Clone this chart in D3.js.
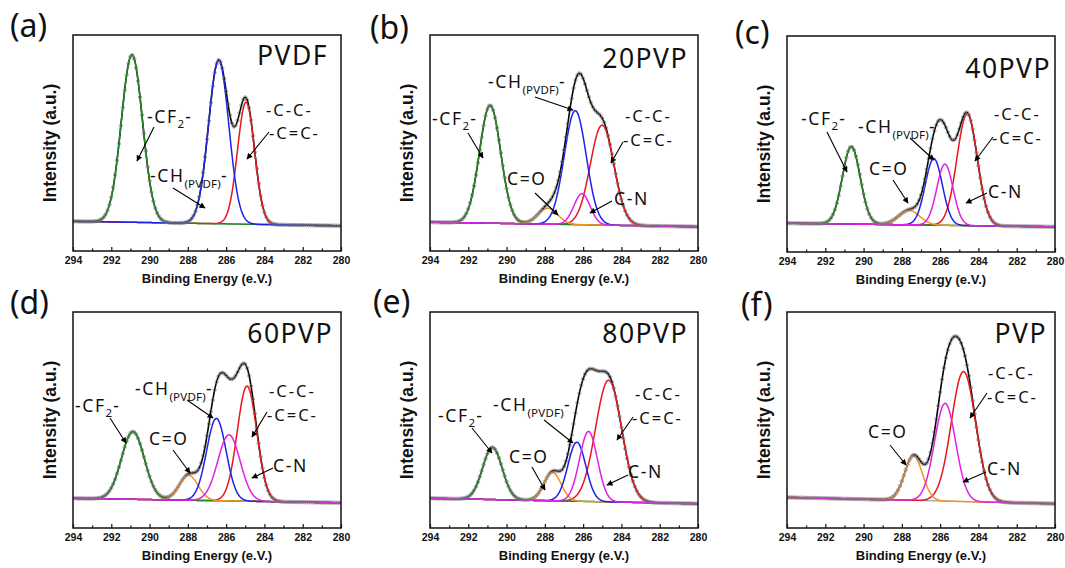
<!DOCTYPE html>
<html><head><meta charset="utf-8">
<script src="https://cdn.jsdelivr.net/npm/d3@7"></script>
<style>body{margin:0;background:#fff}svg{display:block}</style>
</head><body><svg id="c" width="1065" height="568"></svg>
<script>
// ---------------- data ----------------
const panelTags   = ["(a)","(b)","(c)","(d)","(e)","(f)"];
const sampleNames = ["PVDF","20PVP","40PVP","60PVP","80PVP","PVP"];
const xTicks      = [294,292,290,288,286,284,282,280];
const xMinorTicks = [293,291,289,287,285,283,281];
// fitted components: centre (eV), peak height (a.u.), FWHM (eV); null = component absent
const cf2Center = [290.92, 290.86, 290.64, 290.87, 290.74, null];
const cf2Height = [0.93, 0.655, 0.43, 0.376, 0.29, null];
const cf2Fwhm   = [1.3, 1.3, 1.1, 1.4, 1.2, null];
const coCenter  = [null, 287.84, 287.62, 287.96, 287.60, 287.39];
const coHeight  = [null, 0.089, 0.08, 0.139, 0.157, 0.246];
const coFwhm    = [null, 1.2, 1.3, 1.15, 1.05, 1.1];
const chCenter  = [286.39, 286.41, 286.33, 286.51, 286.33, null];
const chHeight  = [0.906, 0.633, 0.37, 0.457, 0.328, null];
const chFwhm    = [1.25, 1.35, 1.05, 1.2, 1.1, null];
const ccCenter  = [284.96, 285.01, 284.59, 284.91, 284.67, 284.78];
const ccHeight  = [0.678, 0.555, 0.62, 0.639, 0.676, 0.722];
const ccFwhm    = [1.05, 1.45, 1.25, 1.2, 1.6, 1.5];
const cnCenter  = [null, 286.06, 285.75, 285.85, 285.72, 285.74];
const cnHeight  = [null, 0.172, 0.34, 0.367, 0.389, 0.543];
const cnFwhm    = [null, 1.0, 1.0, 1.37, 1.1, 1.3];
const bgAt294   = [0.015, 0.01, 0.01, 0.015, 0.015, 0.02];
const bgAt280   = [-0.01, -0.015, -0.01, -0.01, -0.015, -0.015];

// ---------------- layout ----------------
const W = 268, H = 216;
const panelLeft = [73, 430, 787, 73, 430, 787];
const panelTop  = [35, 35, 36, 312, 312, 312];
const tagDx = [-63, -60, -52, -63, -57, -46];
const tagDy = [2, 4, 8, 2, 0.5, 4];
const nameX = [255, 258, 264, 260, 258, 260];
const nameY = [30, 33, 42, 31, 31, 31];
// annotations: [panel, kind, textX, textY, arrowX1, arrowY1, arrowX2, arrowY2, (line2X, line2Y)]
const annotations = [
  [0,"cf2",74,88,81,92,64,126],
  [0,"ch",77,147,100,153,132,173],
  [0,"cc",193,81,196,97,174,124,196,104],
  [1,"cf2",2,90,38,98,53,123],
  [1,"ch",58,53,105,62,143,75],
  [1,"co",77,150,105,158,128,180],
  [1,"cn",184,170,182,166,160,178],
  [1,"cc",195,87,193,107,181,128,193,111],
  [2,"cf2",14,89,40,96,60,136],
  [2,"ch",71,97,123,102,147,124],
  [2,"co",82,139,106,144,121,167],
  [2,"cn",201,162,200,157,179,167],
  [2,"cc",207,84,206,101,188,125,205,108],
  [3,"cf2",2,100,37,106,53,131],
  [3,"ch",62,83,114,88,140,106],
  [3,"co",76,133,100,138,117,161],
  [3,"cn",200,160,200,156,179,166],
  [3,"cc",196,85,194,100,179,125,194,109],
  [4,"cf2",8,110,42,116,62,141],
  [4,"ch",63,99,114,108,143,131],
  [4,"co",79,151,102,155,115,178],
  [4,"cn",198,166,198,163,177,173],
  [4,"cc",205,88,203,105,187,128,202,112],
  [5,"co",81,126,103,133,119,153],
  [5,"cn",200,163,199,160,176,170],
  [5,"cc",201,67,200,81,183,106,200,91]
];

const colors = {cf2:"#1f8a1f", co:"#f39322", ch:"#1e22e6", cc:"#e8161a", cn:"#e41fe4"};
const drawOrder = ["cc","cf2","co","ch","cn"];

const svg = d3.select("#c");
svg.append("rect").attr("width",1065).attr("height",568).attr("fill","#fff");
const defs = svg.append("defs");
defs.append("marker").attr("id","arr").attr("viewBox","0 0 10 10")
  .attr("refX",9).attr("refY",5).attr("markerWidth",7).attr("markerHeight",6)
  .attr("markerUnits","userSpaceOnUse").attr("orient","auto")
  .append("path").attr("d","M0,0L10,5L0,10z").attr("fill","#000");

const x = d3.scaleLinear().domain([294,280]).range([0,W]);
const y = d3.scaleLinear().domain([-0.15,1.05]).range([H,0]);
const grid = d3.range(0,1401).map(i => 294 - i*0.01);
const markGrid = d3.range(0,141).map(i => 294 - i*0.1);

function gauss(e,c,h,f){ return h*Math.exp(-4*Math.LN2*(e-c)*(e-c)/(f*f)); }

for (let p=0;p<6;p++){
  const comps = {
    cf2:[cf2Center[p],cf2Height[p],cf2Fwhm[p]],
    co:[coCenter[p],coHeight[p],coFwhm[p]],
    ch:[chCenter[p],chHeight[p],chFwhm[p]],
    cc:[ccCenter[p],ccHeight[p],ccFwhm[p]],
    cn:[cnCenter[p],cnHeight[p],cnFwhm[p]]
  };
  const bg = d3.scaleLinear().domain([294,280]).range([bgAt294[p],bgAt280[p]]);
  const active = drawOrder.filter(k => comps[k][0] !== null);
  const env = e => bg(e) + d3.sum(active, k => gauss(e,...comps[k]));

  const g = svg.append("g").attr("transform",`translate(${panelLeft[p]},${panelTop[p]})`);
  const clipId = "clip"+p;
  defs.append("clipPath").attr("id",clipId).append("rect").attr("width",W).attr("height",H);
  const plot = g.append("g").attr("clip-path",`url(#${clipId})`);
  const line = d3.line().x(d=>x(d[0])).y(d=>y(d[1]));

  plot.append("path").attr("d",line(grid.map(e=>[e,bg(e)])))
    .attr("fill","none").attr("stroke","#9a9a9a").attr("stroke-width",1.2);
  plot.append("path").attr("d",line(grid.map(e=>[e,env(e)])))
    .attr("fill","none").attr("stroke","#000").attr("stroke-width",1.6);
  active.forEach(k=>{
    plot.append("path").attr("d",line(grid.map(e=>[e,bg(e)+gauss(e,...comps[k])])))
      .attr("fill","none").attr("stroke",colors[k]).attr("stroke-width",1.5);
  });
  plot.append("g").selectAll("circle").data(markGrid).join("circle")
    .attr("cx",e=>x(e)).attr("cy",e=>y(env(e))).attr("r",1.7)
    .attr("fill","none").attr("stroke","#7a7a7a").attr("stroke-width",0.6);

  g.append("rect").attr("width",W).attr("height",H).attr("fill","none")
    .attr("stroke","#111").attr("stroke-width",1.5);

  const ax = g.append("g").attr("transform",`translate(0,${H})`)
    .call(d3.axisBottom(x).tickValues(xTicks).tickSize(-4).tickPadding(6).tickFormat(d3.format("d")));
  ax.select(".domain").remove();
  ax.selectAll("line").attr("stroke","#111").attr("stroke-width",1.2);
  ax.selectAll("text").attr("font-family","'Liberation Sans',Arial,sans-serif")
    .attr("font-weight","bold").attr("font-size",10.5).attr("fill","#111");
  const axm = g.append("g").attr("transform",`translate(0,${H})`)
    .call(d3.axisBottom(x).tickValues(xMinorTicks).tickSize(-2.5).tickFormat(""));
  axm.select(".domain").remove();
  axm.selectAll("line").attr("stroke","#111").attr("stroke-width",1.2);

  g.append("text").attr("x",W/2).attr("y",H+32).attr("text-anchor","middle")
    .attr("font-family","'Liberation Sans',Arial,sans-serif").attr("font-weight","bold")
    .attr("font-size",13).attr("fill","#111").text("Binding Energy (e.V.)");
  g.append("text").attr("transform",`translate(-17,${H/2}) rotate(-90)`).attr("text-anchor","middle")
    .attr("font-family","'Liberation Sans',Arial,sans-serif").attr("font-weight","bold")
    .attr("font-size",17.5).attr("fill","#111").text("Intensity (a.u.)");

  g.append("text").attr("x",tagDx[p]).attr("y",tagDy[p])
    .attr("font-family","'Noto Sans',sans-serif").attr("font-size",32).attr("fill","#111")
    .text(panelTags[p]);
  g.append("text").attr("x",nameX[p]).attr("y",nameY[p]).attr("text-anchor","end")
    .attr("font-family","'Noto Sans',sans-serif").attr("font-size",26.5)
    .attr("letter-spacing",1.5).attr("fill","#111").text(sampleNames[p]);
}

function labelText(g, kind, tx, ty, tx2, ty2){
  const mk = (xx,yy,fs) => g.append("text").attr("x",xx).attr("y",yy)
    .attr("font-family","'Noto Sans',sans-serif").attr("font-size",fs)
    .attr("letter-spacing",1.6).attr("fill","#111");
  if (kind==="cf2"){
    const t = mk(tx,ty,17.5);
    t.append("tspan").text("-CF");
    t.append("tspan").attr("font-size",11.5).attr("dy",5).attr("letter-spacing",1).text("2");
    t.append("tspan").attr("dy",-5).text("-");
  } else if (kind==="ch"){
    const t = mk(tx,ty,17.5);
    t.append("tspan").text("-CH");
    t.append("tspan").attr("font-size",11.5).attr("dy",6).attr("letter-spacing",0.2).text("(PVDF)");
    t.append("tspan").attr("dy",-6).text("-");
  } else if (kind==="co"){ mk(tx,ty,17.5).text("C=O"); }
  else if (kind==="cn"){ mk(tx,ty,17.5).text("C-N"); }
  else if (kind==="cc"){
    mk(tx,ty,16.5).attr("letter-spacing",2).text("-C-C-");
    mk(tx2,ty2,16.5).attr("letter-spacing",2).text("-C=C-");
  }
}
annotations.forEach(a=>{
  const [p,kind,tx,ty,x1,y1,x2,y2,tx2,ty2] = a;
  const g = svg.append("g").attr("transform",`translate(${panelLeft[p]},${panelTop[p]})`);
  labelText(g,kind,tx,ty,tx2,ty2);
  g.append("line").attr("x1",x1).attr("y1",y1).attr("x2",x2).attr("y2",y2)
    .attr("stroke","#000").attr("stroke-width",1.1).attr("marker-end","url(#arr)");
});
</script></body></html>
